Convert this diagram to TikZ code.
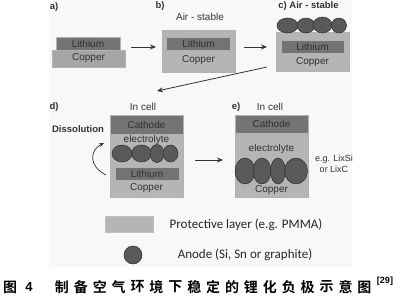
\documentclass[tikz,border=0pt]{standalone}
\usepackage{fontspec}
\setmainfont{Liberation Sans}
\newfontfamily\legfont{Carlito}
\newfontfamily\cjk{Noto Sans CJK SC}[BoldFont={* Bold}]
\usetikzlibrary{arrows.meta,shapes.geometric}
\definecolor{cuC}{HTML}{A6A6A6}
\definecolor{liC}{HTML}{737373}
\definecolor{prC}{HTML}{B5B5B5}
\definecolor{caC}{HTML}{747474}
\definecolor{anC}{HTML}{595959}
\definecolor{anD}{HTML}{2E2E2E}
\definecolor{txC}{HTML}{303030}
\definecolor{bgC}{HTML}{F8F8F8}
\begin{document}
\begin{tikzpicture}[x=1pt,y=-1pt,
  layer/.style={draw=gray!60,line width=0.4pt,inner sep=0pt,font=\fontsize{10}{11}\selectfont\color{txC}},
  cu/.style={layer,fill=cuC},
  li/.style={layer,fill=liC},
  pr/.style={layer,fill=prC},
  ca/.style={layer,fill=caC},
  anode/.style={draw=anD,fill=anC,line width=0.5pt,ellipse,inner sep=0pt},
  lbl/.style={font=\bfseries\fontsize{9.5}{11}\selectfont,text=black!80,inner sep=0pt},
  txt/.style={font=\fontsize{10}{11}\selectfont,text=black!80,inner sep=0pt},
  intext/.style={font=\fontsize{10}{11}\selectfont\color{txC},inner sep=0pt},
  arr/.style={line width=0.8pt,draw=black!80,-{Stealth[length=6pt,width=5pt]}},
  captxt/.style={font=\cjk\bfseries\fontsize{14}{16}\selectfont,inner sep=0pt}
]
\useasboundingbox (0,0) rectangle (400,300);
\fill[bgC] (49,0) rectangle (352,267);

% a)
\node[lbl] (la) at (54,7) {a)};
\node[cu,minimum width=73pt,minimum height=17pt] (acu) at (88.5,58.5) {\color{txC}Copper};
\node[li,minimum width=64pt,minimum height=13pt] (ali) at (88,43.5) {\color{txC}Lithium};

% b)
\node[lbl] (lb) at (160,6) {b)};
\node[txt] (bair) at (200,17) {Air - stable};
\node[pr,minimum width=73pt,minimum height=42pt] (bpr) at (198.5,51) {};
\node[li,minimum width=64pt,minimum height=13pt] (bli) at (198.5,43.5) {\color{txC}Lithium};
\node[intext] (bcu) at (198.5,60) {\color{txC}Copper};

% c)
\node[lbl] (lc) at (308.5,6) {c) Air - stable};
\node[pr,minimum width=73pt,minimum height=39pt] (cpr) at (312.5,51.5) {};
\node[li,minimum width=63pt,minimum height=13pt] (cli) at (312.5,47) {\color{txC}Lithium};
\node[intext] (ccu) at (312.5,62) {\color{txC}Copper};
\node[anode,minimum width=21pt,minimum height=15pt] (c1) at (287.5,25.5) {};
\node[anode,minimum width=18pt,minimum height=15pt] (c2) at (306,25.5) {};
\node[anode,minimum width=19pt,minimum height=16pt] (c3) at (322.5,25) {};
\node[anode,minimum width=15pt,minimum height=15pt] (c4) at (339,25.5) {};

% d)
\node[lbl] (ld) at (54,107) {d)};
\node[txt] (dcell) at (143,107) {In cell};
\node[txt,font=\bfseries\fontsize{9.5}{11}\selectfont] (ddis) at (78,129) {Dissolution};
\node[pr,minimum width=73pt,minimum height=82pt] (dpr) at (146.5,156) {};
\node[ca,minimum width=73pt,minimum height=19pt] (dca) at (146.5,124.5) {\color{txC}Cathode};
\node[intext] (del) at (146.5,140) {\color{txC}electrolyte};
\node[li,minimum width=64pt,minimum height=13pt] (dli) at (147,173.5) {\color{txC}Lithium};
\node[intext] (dcu) at (146.5,188.5) {\color{txC}Copper};
\node[anode,minimum width=20pt,minimum height=17pt] (d1) at (122,153.5) {};
\node[anode,minimum width=20pt,minimum height=17pt] (d2) at (141.5,153.5) {};
\node[anode,minimum width=14pt,minimum height=18pt] (d3) at (157,153.5) {};
\node[anode,minimum width=15pt,minimum height=17pt] (d4) at (170.5,153.5) {};

% e)
\node[lbl] (le) at (236,107) {e)};
\node[txt] (ecell) at (270,107) {In cell};
\node[pr,minimum width=73pt,minimum height=82pt] (epr) at (271.5,156) {};
\node[ca,minimum width=73pt,minimum height=18pt] (eca) at (271.5,124) {\color{txC}Cathode};
\node[intext] (eel) at (271.5,149) {\color{txC}electrolyte};
\node[intext] (ecu) at (271.5,190) {\color{txC}Copper};
\node[anode,minimum width=20pt,minimum height=26pt] (e1) at (245,171) {};
\node[anode,minimum width=18pt,minimum height=26pt] (e2) at (262,171) {};
\node[anode,minimum width=15pt,minimum height=26pt] (e3) at (278,171) {};
\node[anode,minimum width=23pt,minimum height=26pt] (e4) at (296,171) {};
\node[txt,font=\fontsize{9}{10}\selectfont,align=center] (eg) at (334,163.5) {e.g. LixSi\\[1pt]or LixC};

% arrows
\coordinate (ab1) at (131,47);
\coordinate (ab2) at (156,47);
\draw[arr] (ab1) -- (ab2);
\coordinate (bc1) at (244,47);
\coordinate (bc2) at (267,47);
\draw[arr] (bc1) -- (bc2);
\coordinate (cd1) at (267,67);
\coordinate (cd2) at (157,91);
\draw[arr] (cd1) -- (cd2);
\coordinate (de1) at (195,160);
\coordinate (de2) at (223,160);
\draw[arr] (de1) -- (de2);
\coordinate (dis1) at (106,175);
\coordinate (dis2) at (104,143);
\draw[arr,line width=0.7pt,-{Stealth[length=5pt,width=4pt]}] (dis1) .. controls (88,166) and (90,150) .. (dis2);

% legend
\node[pr,draw=gray!50,minimum width=48pt,minimum height=16pt] (lgpr) at (129,224) {};
\node[anode,minimum width=18pt,minimum height=18pt] (lgan) at (133,255) {};
\node[inner sep=0pt,font=\legfont\fontsize{13}{14}\selectfont,text=black!85] (lgprt) at (246,225) {Protective layer (e.g. PMMA)};
\node[inner sep=0pt,font=\legfont\fontsize{13}{14}\selectfont,text=black!85] (lgant) at (245,255) {Anode (Si, Sn or graphite)};

% caption
\node[captxt] (fig) at (10,287) {图};
\node[inner sep=0pt,font=\bfseries\fontsize{13}{14}\selectfont] (fign) at (29,287) {4};
\foreach \ch [count=\i from 0] in {制,备,空,气,环,境,下,稳,定,的,锂,化,负,极,示,意,图}
  \node[captxt] (cap\i) at (62+18.9*\i,287) {\ch};
\node[inner sep=0pt,font=\bfseries\fontsize{9}{10}\selectfont] (ref) at (385,281) {[29]};
\end{tikzpicture}
\end{document}
